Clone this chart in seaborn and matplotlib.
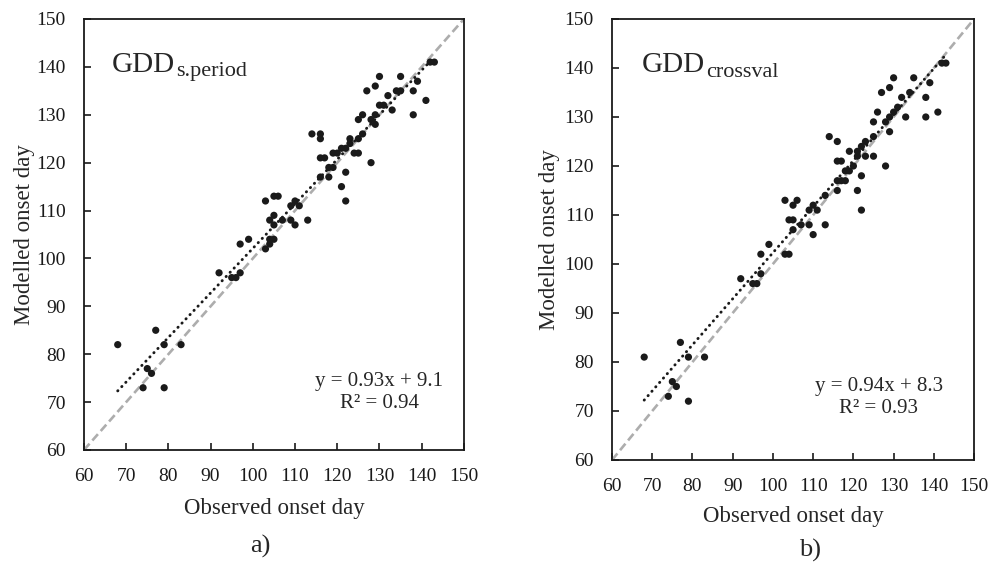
import numpy as np
import pandas as pd
import matplotlib
matplotlib.use('Agg')
import matplotlib.pyplot as plt
import seaborn as sns

# observed vs modelled onset day, panel a (GDD s.period)
obs_a = [68, 74, 75, 76, 77, 79, 79, 83, 92, 95, 96, 97, 97, 99,
         103, 104, 104, 105, 103, 104, 105, 105, 106, 105, 107, 109, 109, 110, 111, 110, 113,
         114, 116, 116, 116, 117, 116, 118, 118, 119, 119, 120, 121, 122, 121, 122, 122,
         123, 123, 124, 125, 125, 125, 126, 127, 128, 128, 129, 129, 129, 130, 131, 132,
         133, 134, 135, 138, 138, 139, 141, 142, 143, 130, 135, 126]
mod_a = [82, 73, 77, 76, 85, 82, 73, 82, 97, 96, 96, 97, 103, 104,
         102, 103, 104, 104, 112, 108, 109, 113, 113, 107, 108, 108, 111, 112, 111, 107, 108,
         126, 126, 125, 121, 121, 117, 117, 119, 122, 119, 122, 123, 123, 115, 118, 112,
         124, 125, 122, 125, 122, 129, 130, 135, 129, 120, 136, 128, 130, 138, 132, 134,
         131, 135, 138, 135, 130, 137, 133, 141, 141, 132, 135, 126]

# panel b (GDD crossval)
obs_b = [68, 74, 75, 76, 77, 79, 79, 83, 92, 95, 96, 97, 97, 99,
         103, 104, 103, 104, 105, 105, 106, 105, 107, 109, 109, 110, 111, 110, 113,
         114, 116, 116, 117, 116, 116, 117, 118, 118, 119, 119, 120, 121, 121, 121, 122, 122,
         122, 123, 123, 125, 125, 125, 126, 127, 128, 128, 129, 129, 129, 130, 131, 132,
         133, 134, 135, 138, 138, 139, 141, 142, 143, 130, 113]
mod_b = [81, 73, 76, 75, 84, 81, 72, 81, 97, 96, 96, 98, 102, 104,
         102, 102, 113, 109, 109, 112, 113, 107, 108, 108, 111, 112, 111, 106, 108,
         126, 125, 121, 121, 115, 117, 117, 119, 117, 123, 119, 120, 122, 123, 115, 118, 111,
         124, 125, 122, 122, 126, 129, 131, 135, 129, 120, 136, 127, 130, 138, 132, 134,
         130, 135, 138, 134, 130, 137, 131, 141, 141, 131, 114]

fit_a = (0.93, 9.1, 0.94)
fit_b = (0.94, 8.3, 0.93)
ticks = list(range(60, 151, 10))

sns.set_style('white')
plt.rcParams['font.family'] = ['Liberation Serif', 'DejaVu Serif']

fig = plt.figure(figsize=(9.9, 5.62), dpi=100)
ax_a = fig.add_axes([0.0848, 0.1993, 0.3838, 0.7669])
ax_b = fig.add_axes([0.6182, 0.1815, 0.3657, 0.7847])


def draw_panel(ax, obs, mod, fit, sub, eq_xy, gdd_xy, xlab_y, ylab_x):
    slope, icpt, r2 = fit
    df = pd.DataFrame({'obs': obs, 'mod': mod})

    # 1:1 line
    ax.plot(ticks[::len(ticks) - 1], ticks[::len(ticks) - 1], color='#ADADAD', lw=1.9,
            ls=(0, (3.2, 1.6)), zorder=1)
    # linear trend
    xs = np.array([min(obs), max(obs)])
    ax.plot(xs, slope * xs + icpt, color='#1a1a1a', lw=2.1, ls=(0, (0.1, 1.9)),
            dash_capstyle='round', zorder=2)
    sns.scatterplot(data=df, x='obs', y='mod', ax=ax, color='#1a1a1a', s=27,
                    edgecolor='none', zorder=3)

    ax.set_xlim(60, 150)
    ax.set_ylim(60, 150)
    ax.set_xticks(ticks)
    ax.set_yticks(ticks)
    ax.tick_params(direction='in', length=5, width=1.2, labelsize=14, pad=13,
                   bottom=True, left=True, top=False, right=False, colors='#1a1a1a')
    for sp in ax.spines.values():
        sp.set_visible(True)
        sp.set_color('#1a1a1a')
        sp.set_linewidth(1.3)

    ax.set_xlabel('Observed onset day', fontsize=16.5, va='center')
    ax.set_ylabel('Modelled onset day', fontsize=16.5, va='center')
    ax.xaxis.set_label_coords(0.5, xlab_y)
    ax.yaxis.set_label_coords(ylab_x, 0.5)

    t = ax.text(gdd_xy[0], gdd_xy[1], 'GDD', fontsize=21, ha='left', va='baseline')
    ax.annotate(sub, xy=(1, 0), xycoords=t, xytext=(1, 1), textcoords='offset points',
                fontsize=16, ha='left', va='baseline')

    ax.text(eq_xy[0], eq_xy[1], f'y = {slope:.2f}x + {icpt:.1f}', fontsize=15,
            ha='center', va='center')
    ax.text(eq_xy[0], eq_xy[1] - 4.5, f'R² = {r2:.2f}', fontsize=15,
            ha='center', va='center')


draw_panel(ax_a, obs_a, mod_a, fit_a, 's.period', (129.9, 74.3), (66.6, 139.0), -0.1346, -0.157)
draw_panel(ax_b, obs_b, mod_b, fit_b, 'crossval', (126.3, 75.0), (67.4, 139.2), -0.1286, -0.174)

fig.text(260 / 990, 1 - 546.7 / 562, 'a)', fontsize=19, ha='center', va='center')
fig.text(810 / 990, 1 - 550 / 562, 'b)', fontsize=19, ha='center', va='center')

plt.savefig('out.png', dpi=100)
